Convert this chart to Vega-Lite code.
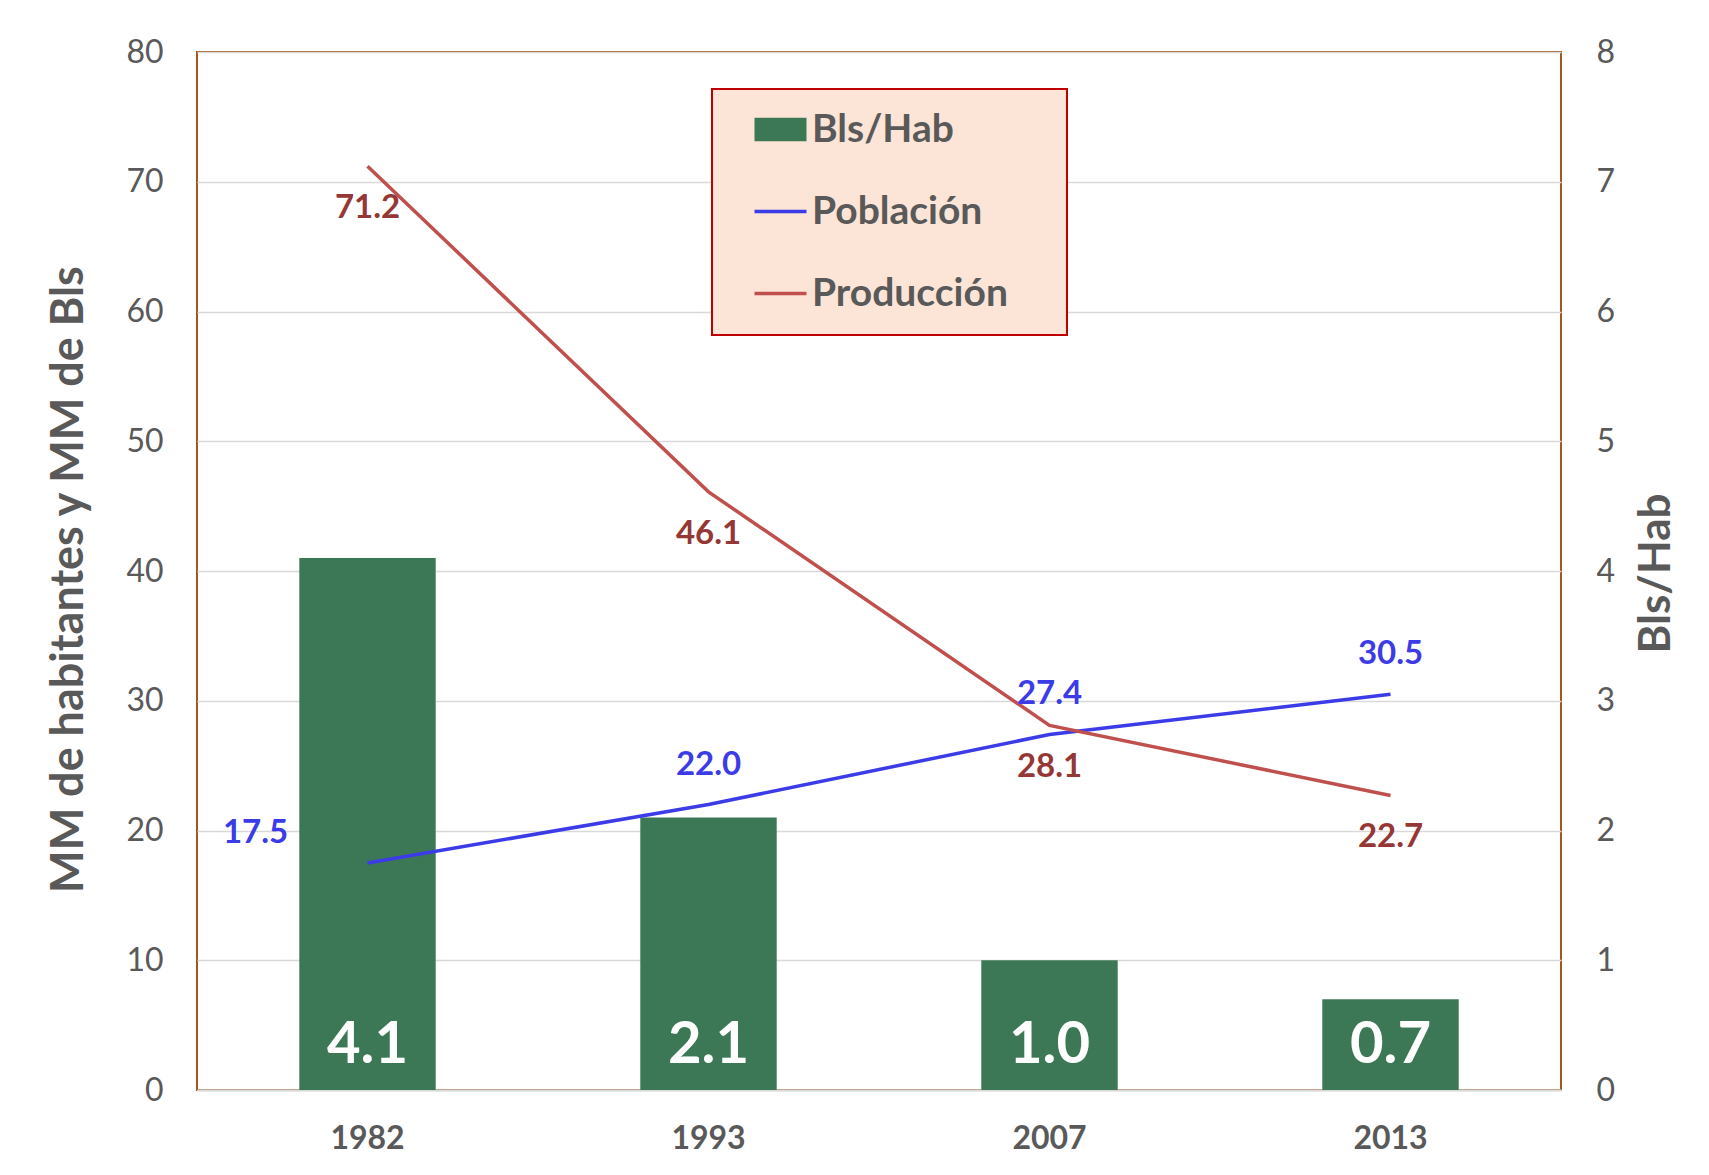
{
  "$schema": "https://vega.github.io/schema/vega-lite/v6.json",
  "width": 1364,
  "height": 1038,
  "autosize": {"type": "none"},
  "padding": {"left": 197, "top": 52, "right": 148, "bottom": 85},
  "background": "white",
  "config": {
    "font": "Lato",
    "view": {"stroke": "#A5561A", "strokeWidth": 2},
    "axis": {"labelFont": "Lato", "titleFont": "Lato", "labelColor": "#595959", "titleColor": "#595959"}
  },
  "data": {
    "values": [
      {"year": "1982", "serie": "Bls/Hab", "value": 4.1},
      {"year": "1993", "serie": "Bls/Hab", "value": 2.1},
      {"year": "2007", "serie": "Bls/Hab", "value": 1.0},
      {"year": "2013", "serie": "Bls/Hab", "value": 0.7},
      {"year": "1982", "serie": "Población", "value": 17.5},
      {"year": "1993", "serie": "Población", "value": 22.0},
      {"year": "2007", "serie": "Población", "value": 27.4},
      {"year": "2013", "serie": "Población", "value": 30.5},
      {"year": "1982", "serie": "Producción", "value": 71.2},
      {"year": "1993", "serie": "Producción", "value": 46.1},
      {"year": "2007", "serie": "Producción", "value": 28.1},
      {"year": "2013", "serie": "Producción", "value": 22.7}
    ]
  },
  "encoding": {
    "x": {
      "field": "year", "type": "ordinal",
      "scale": {"paddingInner": 0.6, "paddingOuter": 0.3},
      "axis": {"title": null, "labelAngle": 0, "labelFontSize": 32, "labelFontWeight": "bold", "labelPadding": 33, "ticks": false, "domainColor": "#D9D9D9", "domainWidth": 2, "grid": false}
    }
  },
  "layer": [
    {
      "transform": [{"filter": "datum.serie === 'Bls/Hab'"}],
      "encoding": {
        "y": {
          "field": "value", "type": "quantitative",
          "scale": {"domain": [0, 8], "nice": false},
          "axis": {"orient": "right", "values": [0, 1, 2, 3, 4, 5, 6, 7, 8], "domain": false, "ticks": false, "grid": false, "labelPadding": 35, "labelFontSize": 32, "title": "Bls/Hab", "titleFontSize": 44, "titleFontWeight": "bold", "titleAngle": -90, "titleX": 95, "titleY": 521, "titleAlign": "center", "titleBaseline": "middle"}
        }
      },
      "layer": [
        {
          "mark": {"type": "bar", "color": "#3D7856"},
          "encoding": {
            "color": {"field": "serie", "type": "nominal", "scale": {"domain": ["Bls/Hab", "Población", "Producción"], "range": ["#3D7856", "#3B3BE8", "#C0504D"]}, "legend": {
              "orient": "none", "legendX": 515, "legendY": 37, "title": null,
              "fillColor": "#FCE4D6", "strokeColor": "#C00000", "padding": 21, "rowPadding": 42, "symbolOffset": 28,
              "labelFontSize": 39, "labelFont": "Lato", "labelFontWeight": "bold", "labelColor": "#595959", "labelOffset": 12, "labelLimit": 600,
              "labelExpr": "datum.label + '\u00a0\u00a0\u00a0\u00a0\u200b'",
              "symbolSize": 2704, "symbolStrokeWidth": 3.5,
              "encode": {
                "legend": {"update": {"strokeWidth": {"value": 2}}},
                "symbols": {"update": {
                  "size": {"value": 2704},
                  "shape": {"signal": "datum.label === 'Bls/Hab' ? 'M-1,-0.45H1V0.45H-1Z' : 'M-1,0H1'"},
                  "fill": {"signal": "datum.label === 'Bls/Hab' ? '#3D7856' : 'transparent'"},
                  "stroke": {"signal": "datum.label === 'Bls/Hab' ? '#3D7856' : (datum.label === 'Población' ? '#3B3BE8' : '#C0504D')"},
                  "strokeWidth": {"signal": "datum.label === 'Bls/Hab' ? 0 : 3.5"},
                  "opacity": {"value": 1}
                }}
              }
            }}
          }
        },
        {
          "mark": {"type": "text", "color": "white", "fontSize": 58, "fontWeight": "bold", "font": "Lato", "baseline": "alphabetic", "dy": -27},
          "encoding": {
            "y": {"datum": 0},
            "text": {"field": "value", "type": "quantitative", "format": ".1f"}
          }
        }
      ]
    },
    {
      "transform": [{"filter": "datum.serie !== 'Bls/Hab'"}],
      "encoding": {
        "y": {
          "field": "value", "type": "quantitative",
          "scale": {"domain": [0, 80], "nice": false},
          "axis": {"orient": "left", "values": [0, 10, 20, 30, 40, 50, 60, 70, 80], "domain": false, "ticks": false, "grid": true, "gridColor": "#D9D9D9", "gridWidth": 1.5, "labelPadding": 34, "labelFontSize": 32, "title": "MM de habitantes y MM de Bls", "titleFontSize": 45, "titleFontWeight": "bold", "titleAngle": -90, "titleX": -129, "titleY": 527, "titleAlign": "center", "titleBaseline": "middle"}
        }
      },
      "layer": [
        {
          "mark": {"type": "line", "strokeWidth": 3.5},
          "encoding": {
            "color": {"field": "serie", "type": "nominal"}
          }
        },
        {
          "transform": [{"filter": "datum.serie === 'Producción'"}],
          "mark": {"type": "text", "color": "#953735", "fontSize": 33, "fontWeight": "bold", "font": "Lato", "baseline": "middle", "dy": 42},
          "encoding": {"text": {"field": "value", "type": "quantitative", "format": ".1f"}}
        },
        {
          "transform": [{"filter": "datum.serie === 'Población' && datum.year !== '1982'"}],
          "mark": {"type": "text", "color": "#3B3BE8", "fontSize": 33, "fontWeight": "bold", "font": "Lato", "baseline": "middle", "dy": -40},
          "encoding": {"text": {"field": "value", "type": "quantitative", "format": ".1f"}}
        },
        {
          "transform": [{"filter": "datum.serie === 'Población' && datum.year === '1982'"}],
          "mark": {"type": "text", "color": "#3B3BE8", "fontSize": 33, "fontWeight": "bold", "font": "Lato", "baseline": "middle", "dx": -112, "dy": -30},
          "encoding": {"text": {"field": "value", "type": "quantitative", "format": ".1f"}}
        }
      ]
    }
  ],
  "resolve": {"scale": {"y": "independent"}}
}
